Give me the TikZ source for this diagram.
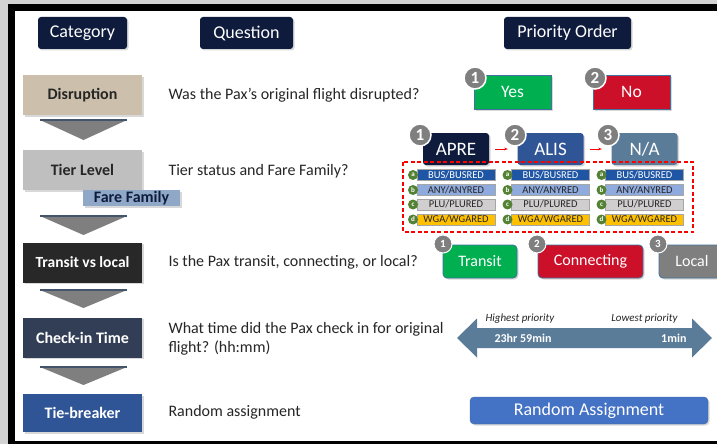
\documentclass[tikz,border=0pt]{standalone}
\usepackage{fontspec}
\setmainfont{Carlito}
\usetikzlibrary{shadows,arrows.meta}

\definecolor{navy}{RGB}{14,27,60}
\definecolor{sand}{RGB}{204,192,172}
\definecolor{tiergray}{RGB}{191,191,191}
\definecolor{farefam}{RGB}{143,168,200}
\definecolor{charcoal}{RGB}{40,40,40}
\definecolor{slatenavy}{RGB}{50,62,85}
\definecolor{royal}{RGB}{47,85,151}
\definecolor{slate}{RGB}{91,124,153}
\definecolor{okgreen}{RGB}{0,176,80}
\definecolor{nored}{RGB}{204,16,42}
\definecolor{midgray}{RGB}{127,127,127}
\definecolor{chevedge}{RGB}{68,84,106}
\definecolor{randblue}{RGB}{68,114,196}
\definecolor{boxedge}{RGB}{65,113,156}
\definecolor{busblue}{RGB}{31,85,165}
\definecolor{anyblue}{RGB}{143,170,220}
\definecolor{plugray}{RGB}{208,206,206}
\definecolor{wgagold}{RGB}{255,192,0}
\definecolor{leafgreen}{RGB}{84,130,53}
\definecolor{framegray}{RGB}{210,210,210}
\definecolor{ink}{RGB}{38,38,38}

\begin{document}
\begin{tikzpicture}[x=1pt,y=-1pt,
	shd/.style={drop shadow={shadow xshift=1.5pt,shadow yshift=-1.5pt,opacity=0.3}},
	head/.style={shd,fill=navy,rounded corners=3pt,text=white,minimum height=32pt,font=\fontsize{18}{21}\selectfont},
	cat/.style={shd,minimum width=119pt,minimum height=40pt,font=\bfseries\fontsize{16}{19}\selectfont},
	ques/.style={anchor=west,text=ink,align=left,font=\fontsize{16}{19}\selectfont},
	pick/.style={shd,draw=boxedge,line width=0.8pt,text=white,minimum height=34pt,font=\fontsize{17.5}{20}\selectfont},
	badge/.style={circle,fill=midgray,draw=white,line width=1.5pt,text=white,inner sep=0pt,minimum size=22pt,font=\bfseries\fontsize{17}{17}\selectfont},
	sbadge/.style={badge,minimum size=18pt,line width=1pt,font=\bfseries\fontsize{11}{11}\selectfont},
	tierbox/.style={shd,rounded corners=3pt,text=white,minimum width=66pt,minimum height=32pt,font=\fontsize{19}{22}\selectfont},
	fare/.style={draw=gray!70,line width=0.5pt,minimum width=78pt,minimum height=11pt,inner sep=0pt,font=\fontsize{10.5}{11}\selectfont},
	leaf/.style={circle,fill=leafgreen,text=white,inner sep=0pt,minimum size=10pt,font=\bfseries\fontsize{7}{7}\selectfont},
	conn/.style={pick,rounded corners=4pt,minimum height=33pt,font=\fontsize{16}{19}\selectfont}]
	\useasboundingbox (0,0) rectangle (717,444);
	\clip (0,0) rectangle (717,444);
	% Frame around the slide
	\fill[framegray] (0,0) rectangle (717,444);
	\filldraw[fill=white,draw=black,line width=7pt] (11.5,7.5) rectangle (740,444.5);
	% Column headers
	\node[head,minimum width=89pt] (category) at (82.5,33) {Category};
	\node[head,minimum width=93pt] (question) at (246.5,33) {Question};
	\node[head,minimum width=127pt] (priority) at (567.5,33) {Priority Order};
	% Chevrons between the categories
	\fill[midgray] (40,120) -- (127,120) -- (83.5,140) -- cycle;
	\draw[chevedge,line width=2.5pt] (40,120) -- (127,120);
	\fill[midgray] (40,216) -- (127,216) -- (83.5,235) -- cycle;
	\draw[chevedge,line width=2.5pt] (40,216) -- (127,216);
	\fill[midgray] (40,290) -- (127,290) -- (83.5,308) -- cycle;
	\draw[chevedge,line width=2.5pt] (40,290) -- (127,290);
	\fill[midgray] (40,367) -- (127,367) -- (83.5,385) -- cycle;
	\draw[chevedge,line width=2.5pt] (40,367) -- (127,367);
	% Categories
	\node[cat,fill=sand,text=ink] (disruption) at (82.5,95) {Disruption};
	\node[cat,fill=tiergray,text=ink] (tierlevel) at (82.5,170) {Tier Level};
	\node[shd,fill=farefam,text=navy,minimum width=97pt,minimum height=16pt,inner sep=0pt,font=\bfseries\fontsize{16}{19}\selectfont] (farefamily) at (131.5,198) {Fare Family};
	\node[cat,fill=charcoal,text=white,font=\bfseries\fontsize{15.5}{19}\selectfont] (transit) at (82.5,262.5) {Transit vs local};
	\node[cat,fill=slatenavy,text=white] (checkin) at (82.5,337.5) {Check-in Time};
	\node[cat,fill=royal,text=white,minimum height=38pt] (tiebreak) at (82.5,413) {Tie-breaker};
	% Questions
	\node[ques] (q1) at (165,95) {Was the Pax’s original flight disrupted?};
	\node[ques] (q2) at (165,171) {Tier status and Fare Family?};
	\node[ques] (q3) at (165,262) {Is the Pax transit, connecting, or local?};
	\node[ques] (q4) at (165,339) {What time did the Pax check in for original\\flight? (hh:mm)};
	\node[ques] (q5) at (165,412) {Random assignment};
	% Disruption: yes before no
	\node[pick,fill=okgreen,minimum width=77pt] (yes) at (512.5,92) {Yes};
	\node[pick,fill=nored,minimum width=77pt] (no) at (631.5,92) {No};
	\node[badge] (b1) at (475,78) {1};
	\node[badge] (b2) at (595,78) {2};
	% Tier order
	\node[tierbox,fill=navy] (apre) at (456,149) {APRE};
	\node[tierbox,fill=royal] (alis) at (550.5,149) {ALIS};
	\node[tierbox,fill=slate] (na) at (644.5,149) {N/A};
	\node[badge] (t1) at (420,135) {1};
	\node[badge] (t2) at (515,135) {2};
	\node[badge] (t3) at (608,135) {3};
	\draw[red,line width=0.8pt,-{Stealth[length=3.5pt]},shorten <=6pt,shorten >=9.5pt] (apre) -- (alis);
	\draw[red,line width=0.8pt,-{Stealth[length=3.5pt]},shorten <=6pt,shorten >=9.5pt] (alis) -- (na);
	% Fare families under each tier
	\foreach \c/\x in {1/456,2/550.5,3/644.5} {
		\node[fare,fill=busblue,text=white] (bus\c) at (\x,175) {BUS/BUSRED};
		\node[fare,fill=anyblue,text=ink] (any\c) at (\x,190) {ANY/ANYRED};
		\node[fare,fill=plugray,text=ink] (plu\c) at (\x,204.5) {PLU/PLURED};
		\node[fare,fill=wgagold,text=ink] (wga\c) at (\x,219.5) {WGA/WGARED};
		\node[leaf] (la\c) at (\x-43,175) {a};
		\node[leaf] (lb\c) at (\x-43,190) {b};
		\node[leaf] (lc\c) at (\x-43,204.5) {c};
		\node[leaf] (ld\c) at (\x-43,219.5) {d};
	}
	\draw[red,dashed,line width=1.2pt,dash pattern=on 4pt off 2.5pt] (403,162) rectangle (693,232);
	% Transit, connecting, local
	\node[conn,fill=okgreen,minimum width=74pt] (transitbox) at (480,261.5) {Transit};
	\node[conn,fill=nored,minimum width=105pt] (connbox) at (590.5,261.5) {Connecting};
	\node[conn,fill=midgray,minimum width=66pt] (localbox) at (692,261.5) {Local};
	\node[sbadge] (c1) at (443,244) {1};
	\node[sbadge] (c2) at (537,244) {2};
	\node[sbadge] (c3) at (658,244) {3};
	% Check-in time scale
	\fill[slate] (457,338) -- (477,318.5) -- (477,328) -- (692,328) -- (692,318.5) -- (712,338)
		-- (692,357.5) -- (692,348) -- (477,348) -- (477,357.5) -- cycle;
	\node[anchor=west,text=ink,font=\itshape\fontsize{11}{13}\selectfont] (high) at (482,319) {Highest priority};
	\node[anchor=east,text=ink,font=\itshape\fontsize{11}{13}\selectfont] (low) at (681,319) {Lowest priority};
	\node[anchor=west,text=white,font=\bfseries\fontsize{12}{14}\selectfont] (late) at (491,338) {23hr 59min};
	\node[anchor=east,text=white,font=\bfseries\fontsize{12}{14}\selectfont] (early) at (690,338) {1min};
	% Tie-breaker
	\node[shd,fill=randblue,draw=boxedge,rounded corners=4pt,text=white,minimum width=238pt,minimum height=27pt,font=\fontsize{18}{21}\selectfont] (random) at (589,410.5) {Random Assignment};
\end{tikzpicture}
\end{document}
